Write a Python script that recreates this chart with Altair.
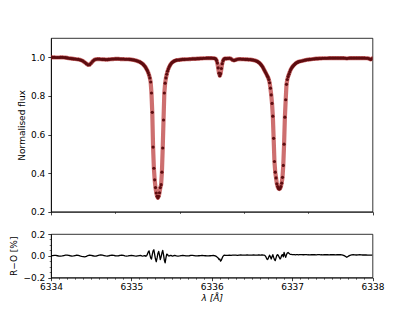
import altair as alt
import pandas as pd

# ---------------- data ----------------
wavelength = [
    6334.00, 6334.02, 6334.04, 6334.06, 6334.08, 6334.10, 6334.12, 6334.14, 6334.16, 6334.18,
    6334.20, 6334.22, 6334.24, 6334.26, 6334.28, 6334.30, 6334.32, 6334.34, 6334.36, 6334.38,
    6334.40, 6334.42, 6334.44, 6334.46, 6334.48, 6334.50, 6334.52, 6334.54, 6334.56, 6334.58,
    6334.60, 6334.62, 6334.64, 6334.66, 6334.68, 6334.70, 6334.72, 6334.74, 6334.76, 6334.78,
    6334.80, 6334.82, 6334.84, 6334.86, 6334.88, 6334.90, 6334.92, 6334.94, 6334.96, 6334.98,
    6335.00, 6335.02, 6335.04, 6335.06, 6335.08, 6335.10, 6335.11, 6335.12, 6335.13, 6335.14,
    6335.15, 6335.16, 6335.17, 6335.18, 6335.19, 6335.20, 6335.21, 6335.22, 6335.23, 6335.24,
    6335.25, 6335.26, 6335.27, 6335.28, 6335.29, 6335.30, 6335.31, 6335.32, 6335.33, 6335.34,
    6335.35, 6335.36, 6335.37, 6335.38, 6335.39, 6335.40, 6335.41, 6335.42, 6335.43, 6335.44,
    6335.45, 6335.46, 6335.47, 6335.48, 6335.49, 6335.50, 6335.51, 6335.52, 6335.53, 6335.54,
    6335.55, 6335.56, 6335.58, 6335.60, 6335.62, 6335.64, 6335.66, 6335.68, 6335.70, 6335.72,
    6335.74, 6335.76, 6335.78, 6335.80, 6335.82, 6335.84, 6335.86, 6335.88, 6335.90, 6335.92,
    6335.94, 6335.96, 6335.98, 6336.00, 6336.02, 6336.03, 6336.04, 6336.05, 6336.06, 6336.07,
    6336.08, 6336.09, 6336.10, 6336.11, 6336.12, 6336.13, 6336.14, 6336.15, 6336.16, 6336.17,
    6336.18, 6336.20, 6336.22, 6336.24, 6336.26, 6336.28, 6336.30, 6336.32, 6336.34, 6336.36,
    6336.38, 6336.40, 6336.42, 6336.44, 6336.46, 6336.48, 6336.50, 6336.52, 6336.54, 6336.56,
    6336.57, 6336.58, 6336.59, 6336.60, 6336.61, 6336.62, 6336.63, 6336.64, 6336.65, 6336.66,
    6336.67, 6336.68, 6336.69, 6336.70, 6336.71, 6336.72, 6336.73, 6336.74, 6336.75, 6336.76,
    6336.77, 6336.78, 6336.79, 6336.80, 6336.81, 6336.82, 6336.83, 6336.84, 6336.85, 6336.86,
    6336.87, 6336.88, 6336.89, 6336.90, 6336.91, 6336.92, 6336.93, 6336.94, 6336.95, 6336.96,
    6336.97, 6336.98, 6336.99, 6337.00, 6337.01, 6337.02, 6337.03, 6337.04, 6337.05, 6337.06,
    6337.07, 6337.08, 6337.09, 6337.10, 6337.12, 6337.14, 6337.16, 6337.18, 6337.20, 6337.22,
    6337.24, 6337.26, 6337.28, 6337.30, 6337.32, 6337.34, 6337.36, 6337.38, 6337.40, 6337.42,
    6337.44, 6337.46, 6337.48, 6337.50, 6337.52, 6337.54, 6337.56, 6337.58, 6337.60, 6337.62,
    6337.64, 6337.66, 6337.68, 6337.70, 6337.72, 6337.74, 6337.76, 6337.78, 6337.80, 6337.82,
    6337.84, 6337.86, 6337.88, 6337.90, 6337.92, 6337.94, 6337.96, 6337.98, 6338.00,
]

flux_obs = [
    1.000, 1.000, 1.000, 0.999, 0.999, 0.999, 1.000, 1.000, 0.999, 0.998,
    0.997, 0.995, 0.994, 0.993, 0.992, 0.991, 0.990, 0.989, 0.987, 0.984,
    0.980, 0.974, 0.967, 0.961, 0.962, 0.970, 0.980, 0.987, 0.990, 0.991,
    0.991, 0.990, 0.989, 0.989, 0.988, 0.988, 0.989, 0.990, 0.991, 0.991,
    0.992, 0.992, 0.992, 0.991, 0.991, 0.991, 0.990, 0.990, 0.990, 0.989,
    0.988, 0.987, 0.985, 0.983, 0.980, 0.977, 0.975, 0.972, 0.969, 0.966,
    0.962, 0.957, 0.952, 0.946, 0.938, 0.930, 0.920, 0.908, 0.893, 0.872,
    0.815, 0.715, 0.535, 0.425, 0.365, 0.325, 0.297, 0.280, 0.272, 0.280,
    0.298, 0.325, 0.340, 0.405, 0.530, 0.675, 0.815, 0.866, 0.893, 0.912,
    0.928, 0.940, 0.950, 0.958, 0.965, 0.970, 0.974, 0.977, 0.980, 0.982,
    0.983, 0.985, 0.986, 0.987, 0.988, 0.989, 0.989, 0.990, 0.990, 0.991,
    0.991, 0.992, 0.992, 0.992, 0.993, 0.993, 0.994, 0.994, 0.995, 0.995,
    0.996, 0.996, 0.996, 0.996, 0.995, 0.995, 0.994, 0.991, 0.984, 0.970,
    0.945, 0.918, 0.905, 0.915, 0.942, 0.967, 0.982, 0.990, 0.993, 0.994,
    0.993, 0.994, 0.995, 0.992, 0.986, 0.984, 0.987, 0.990, 0.991, 0.991,
    0.990, 0.990, 0.989, 0.989, 0.988, 0.988, 0.987, 0.985, 0.983, 0.980,
    0.978, 0.975, 0.972, 0.968, 0.963, 0.958, 0.952, 0.945, 0.937, 0.929,
    0.921, 0.913, 0.905, 0.897, 0.885, 0.868, 0.840, 0.805, 0.761, 0.695,
    0.580, 0.460, 0.405, 0.375, 0.345, 0.330, 0.320, 0.317, 0.320, 0.330,
    0.348, 0.378, 0.440, 0.550, 0.690, 0.780, 0.860, 0.885, 0.900, 0.912,
    0.924, 0.934, 0.942, 0.949, 0.954, 0.959, 0.963, 0.967, 0.970, 0.973,
    0.975, 0.977, 0.978, 0.979, 0.981, 0.983, 0.985, 0.987, 0.988, 0.989,
    0.990, 0.991, 0.992, 0.993, 0.993, 0.994, 0.994, 0.995, 0.995, 0.995,
    0.995, 0.996, 0.996, 0.996, 0.996, 0.996, 0.996, 0.996, 0.996, 0.996,
    0.996, 0.995, 0.994, 0.995, 0.996, 0.996, 0.996, 0.996, 0.996, 0.996,
    0.996, 0.996, 0.996, 0.996, 0.995, 0.995, 0.992, 0.989, 0.995,
]

residual_pct = [
    0.000, 0.002, 0.004, 0.003, 0.000, -0.003, -0.004, -0.002, 0.002, 0.005,
    0.006, 0.004, 0.000, -0.003, -0.002, 0.002, 0.005, 0.004, -0.002, -0.006,
    -0.008, -0.010, -0.006, 0.002, 0.006, 0.004, 0.000, -0.004, -0.003, 0.002,
    0.006, 0.008, 0.006, 0.002, -0.002, -0.003, 0.000, 0.004, 0.006, 0.004,
    0.000, -0.002, 0.000, 0.003, 0.005, 0.003, -0.001, -0.003, -0.002, 0.002,
    0.004, 0.002, -0.002, -0.004, -0.001, 0.002, 0.003, 0.001, -0.002, -0.003,
    -0.002, 0.000, 0.002, -0.005, 0.000, 0.015, 0.035, 0.045, 0.010, -0.020,
    -0.030, 0.010, 0.045, 0.055, 0.010, -0.030, -0.055, -0.020, 0.020, 0.040,
    0.005, -0.035, -0.010, 0.025, 0.050, 0.010, -0.040, -0.065, -0.020, 0.015,
    0.010, 0.000, -0.003, 0.002, 0.004, 0.001, -0.003, -0.002, 0.001, 0.003,
    0.002, -0.001, -0.003, -0.002, 0.001, 0.003, 0.002, -0.001, -0.002, 0.000,
    0.003, 0.004, 0.002, -0.001, -0.002, 0.000, 0.002, 0.003, 0.002, 0.000,
    -0.002, -0.002, 0.000, 0.002, 0.003, 0.002, 0.000, -0.004, -0.008, -0.015,
    -0.020, -0.035, -0.030, -0.050, -0.040, -0.020, -0.005, 0.004, 0.006, 0.004,
    0.003, 0.004, 0.006, 0.004, 0.005, 0.006, 0.005, 0.004, 0.006, 0.007,
    0.006, 0.005, 0.006, 0.007, 0.006, 0.005, 0.006, 0.007, 0.006, 0.005,
    0.006, 0.007, 0.008, 0.006, 0.005, 0.007, 0.008, 0.006, 0.005, 0.004,
    -0.005, -0.020, -0.035, -0.030, -0.010, 0.005, -0.010, -0.030, -0.010, 0.010,
    -0.015, -0.035, -0.045, -0.020, 0.005, 0.010, 0.000, -0.015, -0.030, -0.020,
    0.005, 0.010, -0.010, 0.030, 0.005, -0.015, 0.010, 0.025, 0.030, 0.022,
    0.016, 0.013, 0.012, 0.011, 0.010, 0.011, 0.010, 0.009, 0.010, 0.011,
    0.010, 0.009, 0.010, 0.011, 0.010, 0.009, 0.010, 0.011, 0.009, 0.008,
    0.009, 0.010, 0.009, 0.008, 0.010, 0.011, 0.009, 0.008, 0.009, 0.010,
    0.009, 0.008, 0.009, 0.010, 0.009, 0.008, 0.009, 0.010, 0.009, 0.008,
    0.004, -0.004, -0.014, -0.004, 0.004, 0.008, 0.009, 0.008, 0.007, 0.008,
    0.009, 0.008, 0.007, 0.008, 0.007, 0.006, 0.005, 0.006, 0.005,
]

x_ticks = [
    6334.0, 6334.1, 6334.2, 6334.3, 6334.4, 6334.5, 6334.6, 6334.7, 6334.8, 6334.9,
    6335.0, 6335.1, 6335.2, 6335.3, 6335.4, 6335.5, 6335.6, 6335.7, 6335.8, 6335.9,
    6336.0, 6336.1, 6336.2, 6336.3, 6336.4, 6336.5, 6336.6, 6336.7, 6336.8, 6336.9,
    6337.0, 6337.1, 6337.2, 6337.3, 6337.4, 6337.5, 6337.6, 6337.7, 6337.8, 6337.9,
    6338.0,
]
y_ticks_flux = [0.2, 0.25, 0.3, 0.35, 0.4, 0.45, 0.5, 0.55, 0.6, 0.65,
                0.7, 0.75, 0.8, 0.85, 0.9, 0.95, 1.0, 1.05, 1.1]
y_ticks_res = [-0.2, -0.15, -0.1, -0.05, 0.0, 0.05, 0.1, 0.15, 0.2]

# model spectrum R from observation O and residual (R-O)/O in percent
model_flux = [o * (1 + r / 100.0) for o, r in zip(flux_obs, residual_pct)]

df = pd.DataFrame({
    "wl": wavelength,
    "obs": flux_obs,
    "model": model_flux,
    "res": residual_pct,
})

FONT = "DejaVu Sans"
MAJOR_X = "abs(datum.value - round(datum.value)) < 1e-6"
MAJOR_Y = "abs(datum.value * 5 - round(datum.value * 5)) < 1e-6"


def make_axis(values, test, fmt, labels=True, title=None, **kw):
    opts = dict(
        values=values,
        labels=labels,
        grid=False,
        labelOverlap=False,
        labelFlush=False,
        labelFont=FONT,
        labelFontSize=9,
        labelColor="black",
        labelPadding=3,
        domainColor="black",
        domainWidth=0.8,
        tickColor="black",
        tickSize={"condition": {"test": test, "value": 3.2}, "value": 1.8},
        tickWidth={"condition": {"test": test, "value": 0.75}, "value": 0.55},
        titleFont=FONT,
        titleFontSize=9,
        titleFontWeight="normal",
        titleColor="black",
        title=title,
    )
    if labels:
        opts["labelExpr"] = f"{test} ? format(datum.value, '{fmt}') : ''"
    opts.update(kw)
    return alt.Axis(**opts)


W = 321.5
x_scale = alt.Scale(domain=[6334, 6338], nice=False, zero=False)

base = alt.Chart(df)

x_top = alt.X("wl:Q", scale=x_scale,
              axis=make_axis(x_ticks, MAJOR_X, "d", labels=False, title=None))
y_top_scale = alt.Scale(domain=[0.2, 1.1], nice=False, zero=False)

model_line = base.mark_line(
    color="#b22222", opacity=0.65, strokeWidth=4.2,
    strokeCap="round", strokeJoin="round", clip=True,
).encode(
    x=x_top,
    y=alt.Y("model:Q", scale=y_top_scale,
            axis=make_axis(y_ticks_flux, MAJOR_Y, ".1f",
                           title="Normalised flux", titlePadding=4)),
)

obs_points = base.mark_circle(
    color="#5e0d10", opacity=1, size=10, clip=True,
).encode(
    x=alt.X("wl:Q", scale=x_scale),
    y=alt.Y("obs:Q", scale=y_top_scale),
)

top = alt.layer(model_line, obs_points).properties(width=W, height=173.7)

bottom = base.mark_line(
    color="black", strokeWidth=1.3, clip=True, strokeJoin="round",
).encode(
    x=alt.X("wl:Q", scale=x_scale,
            axis=make_axis(x_ticks, MAJOR_X, "d", title="λ [Å]",
                           labelPadding=1.5, titlePadding=2.5,
                           titleFontStyle="italic")),
    y=alt.Y("res:Q", scale=alt.Scale(domain=[-0.2, 0.2], nice=False),
            axis=make_axis(y_ticks_res, MAJOR_Y, ".1f",
                           title="R−O [%]", titlePadding=4)),
).properties(width=W, height=43.5)

chart = alt.vconcat(top, bottom, spacing=11).properties(
    padding={"left": 1, "top": 29, "right": 5, "bottom": 2},
    background="white",
).configure_view(
    stroke="black", strokeWidth=0.8,
).configure_concat(spacing=11)

chart.save("out.html", embed_options={"renderer": "svg", "actions": False})
